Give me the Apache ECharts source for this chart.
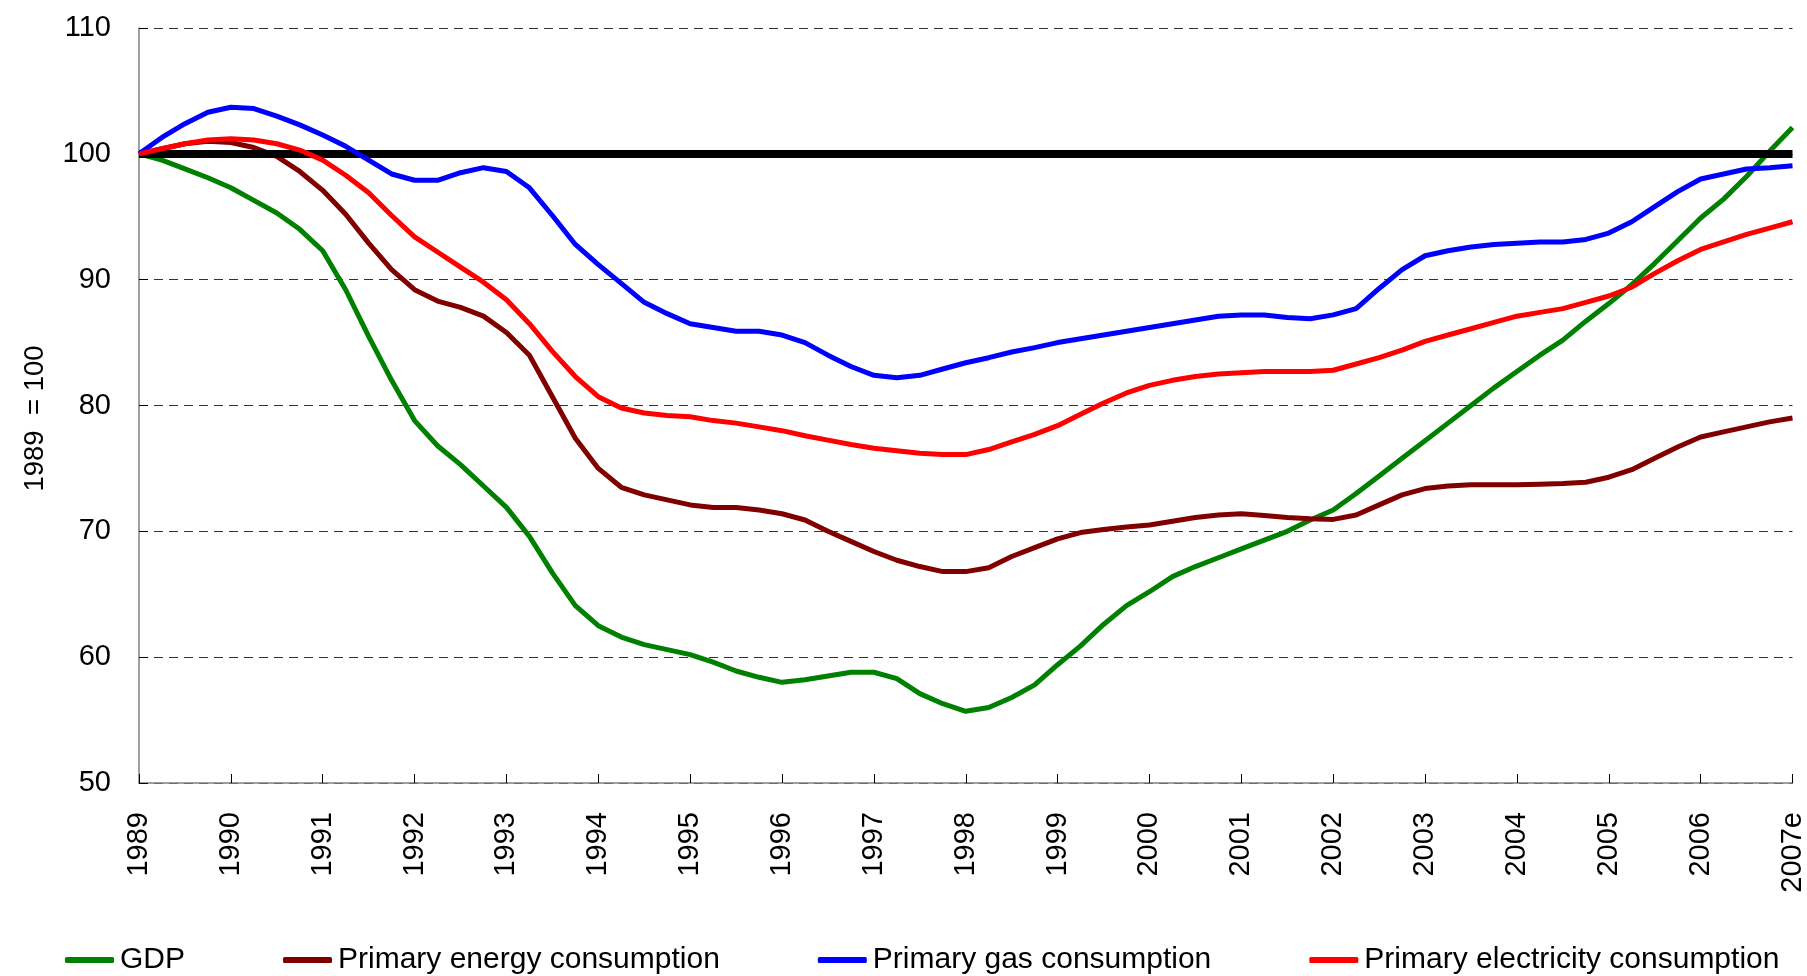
<!DOCTYPE html>
<html style="height: 100%">

<head>
    <meta charset="utf-8">
</head>

<body style="height: 100%; margin: 0; background: #fff">
    <div id="container" style="width: 1807px; height: 976px"></div>
    <script src="https://cdn.jsdelivr.net/npm/echarts@6/dist/echarts.min.js"></script>
    <script>
        // tick labels: one per year, data is quarterly
        const years = ['1989', '1990', '1991', '1992', '1993', '1994', '1995', '1996', '1997', '1998',
            '1999', '2000', '2001', '2002', '2003', '2004', '2005', '2006', '2007e'];

        // index, 1989 = 100, quarterly points 1989 .. 2007e
        const gdp = [
            100, 99.5, 98.8, 98.1, 97.3, 96.3, 95.3, 94.0,
            92.3, 89.2, 85.5, 82.0, 78.8, 76.8, 75.3, 73.6,
            71.9, 69.6, 66.7, 64.1, 62.5, 61.6, 61.0, 60.6,
            60.2, 59.6, 58.9, 58.4, 58.0, 58.2, 58.5, 58.8,
            58.8, 58.3, 57.1, 56.3, 55.7, 56.0, 56.8, 57.8,
            59.4, 60.9, 62.6, 64.1, 65.2, 66.4, 67.2, 67.9,
            68.6, 69.3, 70.0, 70.9, 71.7, 73.0, 74.4, 75.8,
            77.2, 78.6, 80.0, 81.4, 82.7, 84.0, 85.2, 86.7,
            88.1, 89.6, 91.3, 93.1, 94.9, 96.4, 98.2, 100.2,
            102.1
        ];
        const energy = [
            100, 100.4, 100.8, 101.0, 100.9, 100.5, 99.8, 98.6,
            97.1, 95.2, 92.9, 90.8, 89.2, 88.3, 87.8, 87.1,
            85.8, 84.0, 80.7, 77.4, 75.0, 73.5, 72.9, 72.5,
            72.1, 71.9, 71.9, 71.7, 71.4, 70.9, 70.0, 69.2,
            68.4, 67.7, 67.2, 66.8, 66.8, 67.1, 68.0, 68.7,
            69.4, 69.9, 70.15, 70.35, 70.5, 70.8, 71.1, 71.3,
            71.4, 71.25, 71.1, 71.0, 70.95, 71.3, 72.1, 72.9,
            73.4, 73.6, 73.7, 73.7, 73.7, 73.75, 73.8, 73.9,
            74.3, 74.9, 75.8, 76.7, 77.5, 77.9, 78.3, 78.7,
            79.0
        ];
        const gas = [
            100, 101.3, 102.4, 103.3, 103.7, 103.6, 103.0, 102.3,
            101.5, 100.6, 99.5, 98.4, 97.9, 97.9, 98.5, 98.9,
            98.6, 97.3, 95.1, 92.8, 91.2, 89.7, 88.2, 87.3,
            86.5, 86.2, 85.9, 85.9, 85.6, 85.0, 84.0, 83.1,
            82.4, 82.2, 82.4, 82.9, 83.4, 83.8, 84.25, 84.6,
            85.0, 85.3, 85.6, 85.9, 86.2, 86.5, 86.8, 87.1,
            87.2, 87.2, 87.0, 86.9, 87.2, 87.7, 89.3, 90.8,
            91.9, 92.3, 92.6, 92.8, 92.9, 93.0, 93.0, 93.2,
            93.7, 94.6, 95.8, 97.0, 98.0, 98.4, 98.8, 98.9,
            99.05
        ];
        const electricity = [
            100, 100.4, 100.8, 101.1, 101.2, 101.1, 100.8, 100.3,
            99.5, 98.3, 96.9, 95.1, 93.4, 92.2, 91.0, 89.8,
            88.4, 86.5, 84.3, 82.3, 80.7, 79.8, 79.4, 79.2,
            79.1, 78.8, 78.6, 78.3, 78.0, 77.6, 77.25, 76.9,
            76.6, 76.4, 76.2, 76.1, 76.1, 76.5, 77.1, 77.7,
            78.4, 79.3, 80.2, 81.0, 81.6, 82.0, 82.3, 82.5,
            82.6, 82.7, 82.7, 82.7, 82.8, 83.3, 83.8, 84.4,
            85.1, 85.6, 86.1, 86.6, 87.1, 87.4, 87.7, 88.2,
            88.7, 89.4, 90.5, 91.5, 92.4, 93.0, 93.6, 94.1,
            94.6
        ];
        const baseValue = 100;

        const quarters = [];
        years.forEach((y, k) => {
            if (k < years.length - 1) {
                for (let q = 1; q <= 4; q++) quarters.push(y + ' Q' + q);
            } else {
                quarters.push(y);
            }
        });

        const font = 'Liberation Sans, Arial, sans-serif';
        const names = ['GDP', 'Primary energy consumption', 'Primary gas consumption', 'Primary electricity consumption'];
        const colors = ['#008000', '#800000', '#0000FF', '#FF0000'];
        const values = [gdp, energy, gas, electricity];

        const chart = echarts.init(document.getElementById('container'));

        const lineSeries = names.map((name, i) => ({
            name: name,
            type: 'line',
            data: values[i],
            showSymbol: false,
            symbol: 'none',
            z: 3 + i,
            lineStyle: { color: colors[i], width: 5 },
            itemStyle: { color: colors[i] }
        }));

        const option = {
            animation: false,
            backgroundColor: '#fff',
            grid: { left: 139, right: 14, top: 28, bottom: 193 },
            legend: {
                data: names,
                left: 60,
                top: 938,
                itemGap: 98,
                itemWidth: 49,
                itemHeight: 6,
                icon: 'roundRect',
                textStyle: { fontFamily: font, fontSize: 30, color: '#000', lineHeight: 34, padding: [0, 0, 0, 1] }
            },
            xAxis: {
                type: 'category',
                data: quarters,
                boundaryGap: false,
                axisLine: { lineStyle: { color: '#808080', width: 1.5 } },
                axisTick: { interval: 3, inside: true, length: 9, lineStyle: { color: '#000', width: 1 } },
                axisLabel: {
                    interval: 3,
                    rotate: 90,
                    margin: 29,
                    fontFamily: font,
                    fontSize: 29,
                    color: '#000',
                    formatter: v => v.split(' ')[0]
                },
                splitLine: { show: false }
            },
            yAxis: {
                type: 'value',
                min: 50,
                max: 110,
                interval: 10,
                name: '1989  = 100',
                nameLocation: 'middle',
                nameGap: 90,
                nameTextStyle: { fontFamily: font, fontSize: 27.5, color: '#000', padding: [0, 26, 0, 0] },
                axisLine: { show: true, lineStyle: { color: '#808080', width: 1.5 } },
                axisTick: { show: true, inside: true, length: 9, lineStyle: { color: '#000', width: 1 } },
                axisLabel: { margin: 28, fontFamily: font, fontSize: 29, color: '#000' },
                splitLine: { show: true, lineStyle: { color: '#333', width: 1, type: [9, 6] } }
            },
            series: [{
                name: 'base',
                type: 'line',
                data: [],
                z: 2,
                markLine: {
                    silent: true,
                    symbol: 'none',
                    label: { show: false },
                    lineStyle: { color: '#000', width: 8, type: 'solid' },
                    data: [{ yAxis: baseValue }]
                }
            }].concat(lineSeries)
        };

        chart.setOption(option);
    </script>
</body>

</html>
